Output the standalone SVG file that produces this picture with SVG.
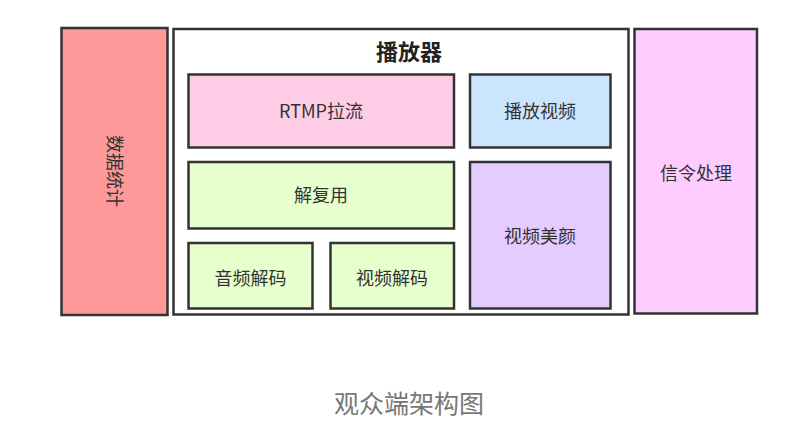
<svg xmlns="http://www.w3.org/2000/svg" width="801" height="424" viewBox="0 0 801 424">
<style>
.box{stroke:#333;stroke-width:2.5}
.lbl{font-family:"Noto Sans CJK SC","Liberation Sans",sans-serif;font-size:18px;fill:#333;text-anchor:middle}
.title{font-family:"Noto Sans CJK SC","Liberation Sans",sans-serif;font-size:22px;font-weight:bold;fill:#222;text-anchor:middle}
.cap{font-family:"Noto Sans CJK SC","Liberation Sans",sans-serif;font-size:25px;fill:#777;text-anchor:middle}
</style>
<rect width="801" height="424" fill="#ffffff"/>
<g id="stats">
<rect class="box" x="61.5" y="28" width="106" height="287" fill="#ff9999"/>
<text class="lbl" transform="translate(114,171) rotate(90)" y="6.5">数据统计</text>
</g>
<g id="player">
<rect class="box" x="173.5" y="29" width="455" height="285.5" fill="#ffffff"/>
<text class="title" x="409" y="60">播放器</text>
</g>
<g id="rtmp">
<rect class="box" x="188.5" y="74.5" width="265.5" height="73" fill="#ffcce6"/>
<text class="lbl" x="321" y="118">RTMP拉流</text>
</g>
<g id="playvideo">
<rect class="box" x="470" y="74.5" width="140.5" height="73" fill="#cce5ff"/>
<text class="lbl" x="540" y="118">播放视频</text>
</g>
<g id="demux">
<rect class="box" x="188.5" y="162" width="265.5" height="66.5" fill="#e6ffcc"/>
<text class="lbl" x="321" y="202">解复用</text>
</g>
<g id="beauty">
<rect class="box" x="470" y="162" width="140.5" height="146.5" fill="#e5ccff"/>
<text class="lbl" x="540" y="243">视频美颜</text>
</g>
<g id="adec">
<rect class="box" x="188.5" y="243" width="124" height="65.5" fill="#e6ffcc"/>
<text class="lbl" x="250.5" y="285">音频解码</text>
</g>
<g id="vdec">
<rect class="box" x="330.5" y="243" width="123.5" height="65.5" fill="#e6ffcc"/>
<text class="lbl" x="392" y="285">视频解码</text>
</g>
<g id="signal">
<rect class="box" x="634.5" y="29" width="122.5" height="284.5" fill="#ffccff"/>
<text class="lbl" x="696" y="180">信令处理</text>
</g>
<g id="connectors"></g>
<text class="cap" x="409" y="413">观众端架构图</text>
</svg>
